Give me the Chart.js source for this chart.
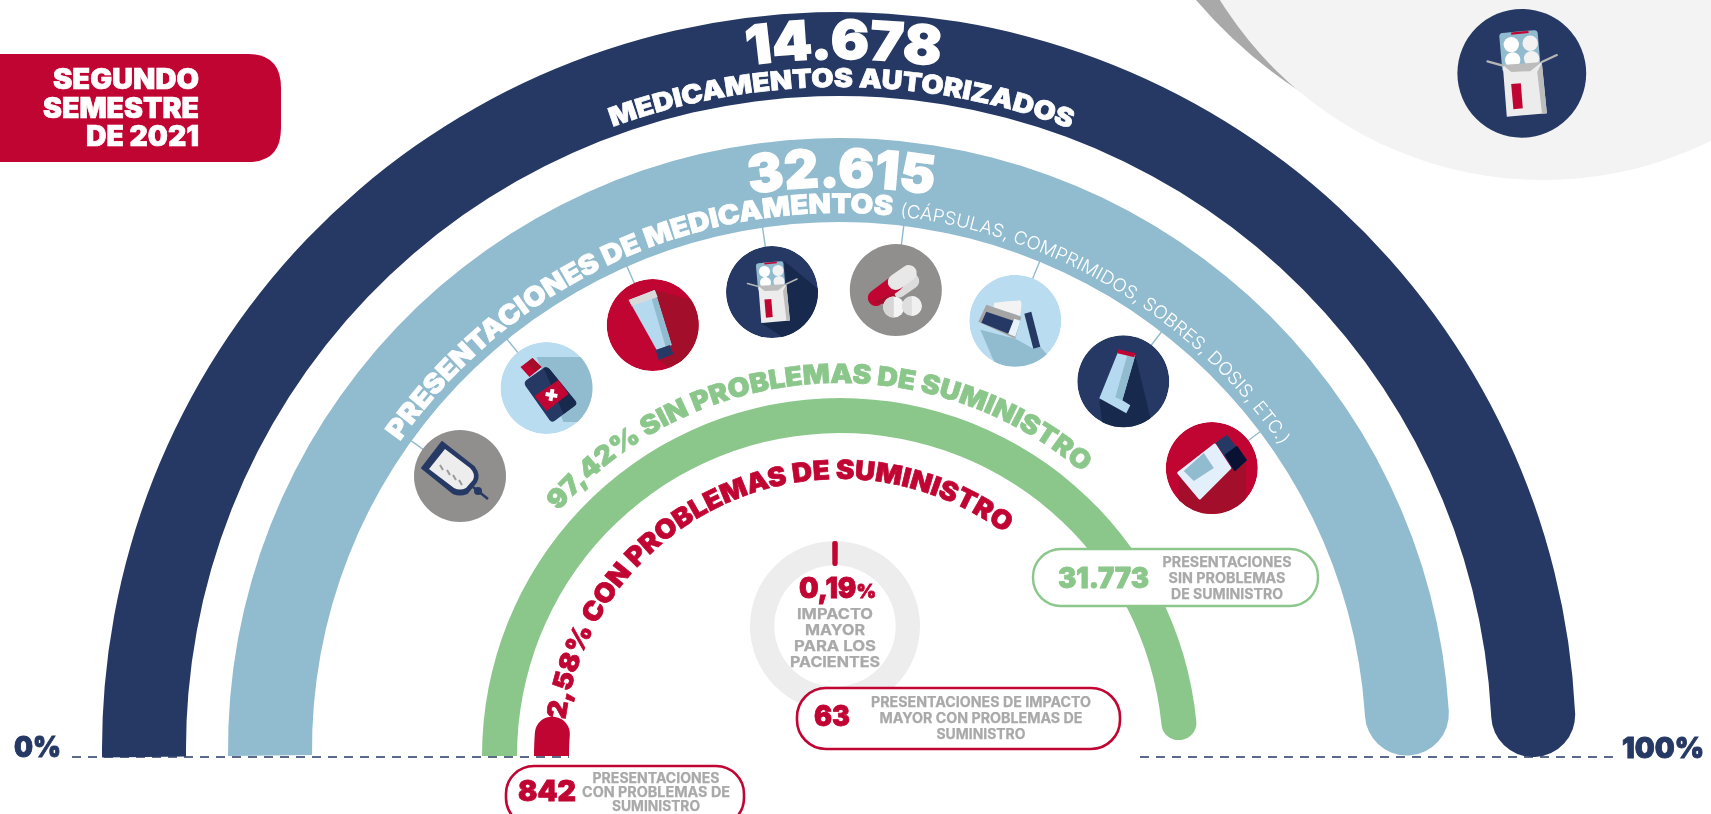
<!DOCTYPE html>
<html lang="es">
<head>
<meta charset="utf-8">
<title>Segundo semestre de 2021</title>
<script src="https://cdn.jsdelivr.net/npm/chart.js@4"></script>
<style>
  html, body { margin: 0; padding: 0; background: #fff; overflow: hidden; }
  #wrap { position: relative; width: 1711px; height: 814px; }
  #rings, #overlay { position: absolute; left: 0; top: 0; }
  #overlay text { font-family: Inter, "Noto Sans", sans-serif; font-weight: 900; }
  #overlay text.gris { fill: #a9a9a9; font-size: 14px; font-weight: 700; text-anchor: middle; stroke: #a9a9a9; stroke-width: 0.25px; }
  #overlay text.gris.grande { font-size: 15px; }
</style>
</head>
<body>
<div id="wrap">
<canvas id="rings" width="1711" height="814"></canvas>
<svg id="overlay" width="1711" height="814" viewBox="0 0 1711 814" xmlns="http://www.w3.org/2000/svg">
  <defs>
    <clipPath id="disco"><circle r="46"/></clipPath>
    <g id="blister">
      <rect x="-15" y="-30" width="27.5" height="28" rx="2.5" fill="#91bbcf" transform="rotate(-5 0 -15)"/>
      <path d="M-7.6 -28.4 L4.8 -29.5" stroke="#c10533" stroke-width="1.6"/>
      <circle cx="-7.5" cy="-20.5" r="5.5" fill="#fff"/><circle cx="6" cy="-21.5" r="5.5" fill="#f2f2f2"/>
      <circle cx="-6.5" cy="-9.5" r="5.5" fill="#fff"/><circle cx="7" cy="-10.5" r="5.5" fill="#f2f2f2"/>
      <path d="M-13.6 -6 L14.3 -7.5 L17.9 28.6 L-10.7 31 Z" fill="#ececec"/>
      <path d="M14.3 -7.5 L17.9 28.6 L14.5 29 L11 -1 Z" fill="#bcbcbc"/>
      <path d="M-13.6 -6 L14.3 -8 L6 -1.5 L-7.5 -1 Z" fill="#bcbcbc"/>
      <path d="M-24.5 -8.5 L-13.6 -5.5 M25 -13 L14.3 -8" stroke="#b5b5b5" stroke-width="1.6" stroke-linecap="round"/>
      <path d="M-7.6 7.6 L-0.7 7.1 L0.7 25 L-6 25.7 Z" fill="#c10533"/>
    </g>
  </defs>

  <!-- fondo arriba a la derecha -->
  <path d="M1196 0 Q1244 56 1304 94 L1420 0 Z" fill="#a9a9a9"/>
  <circle cx="1543" cy="-200" r="380" fill="#f3f3f3"/>

  <!-- etiqueta -->
  <path d="M0 54 H248 Q281 54 281 88 V128 Q281 162 248 162 H0 Z" fill="#c10533"/>
  <g fill="#fff" font-size="28" text-anchor="end" class="recia">
    <text x="199" y="89" textLength="146" lengthAdjust="spacingAndGlyphs">SEGUNDO</text>
    <text x="199" y="118" textLength="156" lengthAdjust="spacingAndGlyphs">SEMESTRE</text>
    <text x="199" y="146" textLength="113" lengthAdjust="spacingAndGlyphs">DE 2021</text>
  </g>

  <g id="conectores" stroke="#91bbcf" stroke-width="1.4"></g>

  <!-- iconos -->
  <g transform="translate(460 476)">
    <circle r="46" fill="#908f8e"/>
    <path d="M-18 -34 L-38 -8 L-7 17 Q0 20 7 17 L16 6 Q20 -1 14 -9 Z" fill="#263965" stroke="#263965" stroke-width="2" stroke-linejoin="round"/>
    <path d="M-15 -27 L-31 -7 L-6 12 Q0 15 6 12 L13 4 Q16 -2 10 -8 Z" fill="#ededed"/>
    <path d="M-20 -11 L-17 -6 M-13 -6 L-10 -1 M-7 -1 L-4 4 M-1 4 L2 9" stroke="#9a9a9a" stroke-width="2"/>
    <path d="M13 11 L28 23" stroke="#263965" stroke-width="2.5"/>
    <circle cx="18" cy="15" r="4" fill="#263965"/>
  </g>
  <g transform="translate(546.5 388)">
    <g clip-path="url(#disco)"><circle r="46" fill="#b9dcf0"/>
      <path d="M-10 -31 L60 -31 L60 34 L17 34 Z" fill="#91bbcf"/></g>
    <path d="M-20 -8 L-3 -20 Q0 -22 3 -19 L29 13 Q31 16 28 18 L8 33 Q5 35 3 32 L-21 -2 Q-23 -6 -20 -8 Z" fill="#263965"/>
    <path d="M-3 -20 Q0 -22 3 -19 L29 13 Q31 16 28 18 L17 26 Z" fill="#172a4d"/>
    <path d="M-26 -21 L-14 -30 L-5 -21 L-17 -11 Z" fill="#c10533"/>
    <path d="M-14 -30 L-5 -21 L-11 -16 L-20 -25 Z" fill="#a30f2b"/>
    <path d="M-12 8 L12 -8 L22 6 L0 23 Z" fill="#c10533"/>
    <path d="M5 1 V13 M-1 7 H11" stroke="#fff" stroke-width="4" transform="rotate(10 5 7)"/>
  </g>
  <g transform="translate(652.7 325)">
    <g clip-path="url(#disco)"><circle r="46" fill="#c10533"/>
      <path d="M2 -35 L50 -22 L50 30 L15 42 L6 35 L21 29 Z" fill="#a30f2b"/></g>
    <path d="M-24 -25 L2 -35 L19 20 L4 25 Z" fill="#b5d9ee"/>
    <path d="M-3 -33 L2 -35 L19 20 L13 22 Z" fill="#91bbcf"/>
    <path d="M-24 -25 L2 -35 L5 -28 L-21 -19 Z" fill="#d9d9d9"/>
    <path d="M3 25 L17 20 L21 29 L6 35 Z" fill="#263965"/>
  </g>
  <g transform="translate(772 292)">
    <g clip-path="url(#disco)"><circle r="46" fill="#263965"/>
      <path d="M12 -31 L50 0 L50 50 L12 46 L-10.7 31 L17.9 28.6 Z" fill="#172a4d"/></g>
    <use href="#blister"/>
  </g>
  <g transform="translate(895.8 290)">
    <circle r="46" fill="#908f8e"/>
    <path d="M3 0 L16 -9" stroke="#dcdcdc" stroke-width="15" stroke-linecap="round"/>
    <path d="M-20 8 L0 -7" stroke="#c10533" stroke-width="16" stroke-linecap="round"/>
    <path d="M-24 13 L-8 14 L1 7 L5 15 L-2 3 Z" fill="#a30f2b"/>
    <path d="M0 -8 L13 -17" stroke="#e8e8e8" stroke-width="16" stroke-linecap="round"/>
    <circle cx="-2" cy="17" r="10.6" fill="#f4f4f4"/><path d="M-2 6.4 A10.6 10.6 0 0 0 -2 27.6 Z" fill="#d6d6d6"/>
    <circle cx="16" cy="16" r="10" fill="#dedede"/><path d="M16 6 A10 10 0 0 1 16 26 Z" fill="#f0f0f0"/>
  </g>
  <g transform="translate(1015.3 320.7)">
    <g clip-path="url(#disco)"><circle r="46" fill="#b9dcf0"/>
      <path d="M-35 9 L-19 46 L46 46 L31 33 L25 26 L18 28 L0 18 Z" fill="#91bbcf"/></g>
    <path d="M-21 -18 Q-6 -20 2 -20 Q7 -22 6 -14 L5 -5 L-22 -13 Z" fill="#f3f3f3"/>
    <path d="M-37 1 L-29 -16 L6 -4 L0 18 Z" fill="#a5a5a5"/>
    <path d="M-34 2 L-29 -9 L-2 0 L-7 13 Z" fill="#263965"/>
    <path d="M-7 13 L-1 -2 L5 0 L0 16 Z" fill="#e9f3fa"/>
    <path d="M9 -7 L16 -9 L25 26 L18 28 Z" fill="#263965"/>
  </g>
  <g transform="translate(1123.3 381.3)">
    <g clip-path="url(#disco)"><circle r="46" fill="#263965"/>
      <path d="M12 -26 L28 40 L28 50 L-20 50 L-24 20 Z" fill="#172a4d"/></g>
    <path d="M-5 -30 L12 -26 L-1 19 L7 24 L3 32 L-24 17 Z" fill="#b5d9ee"/>
    <path d="M4 -26 L12 -26 L-1 19 L-8 16 Z" fill="#91bbcf"/>
    <path d="M-5 -32 L12 -28 L11 -24 L-6 -28 Z" fill="#c10533"/>
  </g>
  <g transform="translate(1211.8 468)">
    <g clip-path="url(#disco)"><circle r="46" fill="#c10533"/>
      <path d="M-33 7 L-12 30 L18 0 L34 -8 L34 50 L-33 50 Z" fill="#a30f2b"/></g>
    <path d="M-33 5 L3 -23 L18 0 L-12 30 Z" fill="#e3effa" stroke="#e3effa" stroke-width="3" stroke-linejoin="round"/>
    <path d="M-28 3 L-8 -15 L2 0 L-18 13 Z" fill="#91bbcf"/>
    <path d="M5 -25 L15 -32 L34 -8 L23 2 Z" fill="#263965" stroke="#263965" stroke-width="2" stroke-linejoin="round"/>
    <path d="M14 -13 L25 -21 L34 -8 L23 2 Z" fill="#0a1233" stroke="#0a1233" stroke-width="2" stroke-linejoin="round"/>
  </g>
  <g transform="translate(1521.8 73.3)">
    <circle r="64.4" fill="#263965"/>
    <use href="#blister" transform="scale(1.4)"/>
  </g>

  <!-- linea base -->
  <path d="M72 757 H569 M1140 757 H1614" stroke="#263965" stroke-width="1.3" stroke-dasharray="9 7"/>
  <text x="14" y="757" font-size="29" fill="#263965" stroke="#263965" stroke-width="0.9" textLength="47" lengthAdjust="spacingAndGlyphs">0%</text>
  <text x="1622" y="758" font-size="29" fill="#263965" stroke="#263965" stroke-width="0.9" textLength="82" lengthAdjust="spacingAndGlyphs">100%</text>

  <g id="curvos"></g>

  <!-- texto del anillo interior -->
  <text x="799" y="598" font-size="28" fill="#c10533" stroke="#c10533" stroke-width="0.8" textLength="77" lengthAdjust="spacingAndGlyphs">0,19<tspan font-size="19">%</tspan></text>
  <text class="gris grande" x="835" y="619" textLength="76" lengthAdjust="spacingAndGlyphs">IMPACTO</text>
  <text class="gris grande" x="835" y="635" textLength="60" lengthAdjust="spacingAndGlyphs">MAYOR</text>
  <text class="gris grande" x="835" y="651" textLength="82" lengthAdjust="spacingAndGlyphs">PARA LOS</text>
  <text class="gris grande" x="835" y="667" textLength="90" lengthAdjust="spacingAndGlyphs">PACIENTES</text>

  <!-- pastillas -->
  <rect x="1033" y="549" width="285" height="57" rx="28" fill="#fff" stroke="#8bc78b" stroke-width="2.4"/>
  <text x="1058" y="588" font-size="28" fill="#8bc78b" stroke="#8bc78b" stroke-width="0.8" textLength="91" lengthAdjust="spacingAndGlyphs">31.773</text>
  <text class="gris" x="1227" y="567" textLength="129" lengthAdjust="spacingAndGlyphs">PRESENTACIONES</text>
  <text class="gris" x="1227" y="583" textLength="117" lengthAdjust="spacingAndGlyphs">SIN PROBLEMAS</text>
  <text class="gris" x="1227" y="599" textLength="112" lengthAdjust="spacingAndGlyphs">DE SUMINISTRO</text>

  <rect x="797" y="688" width="323" height="61" rx="29" fill="#fff" stroke="#c10533" stroke-width="2.6"/>
  <text x="814" y="726" font-size="28" fill="#c10533" stroke="#c10533" stroke-width="0.8" textLength="36" lengthAdjust="spacingAndGlyphs">63</text>
  <text class="gris" x="981" y="707" textLength="220" lengthAdjust="spacingAndGlyphs">PRESENTACIONES DE IMPACTO</text>
  <text class="gris" x="981" y="723" textLength="203" lengthAdjust="spacingAndGlyphs">MAYOR CON PROBLEMAS DE</text>
  <text class="gris" x="981" y="739" textLength="89" lengthAdjust="spacingAndGlyphs">SUMINISTRO</text>

  <rect x="506" y="766" width="238" height="60" rx="28" fill="#fff" stroke="#c10533" stroke-width="2.6"/>
  <text x="518" y="801" font-size="28" fill="#c10533" stroke="#c10533" stroke-width="0.8" textLength="58" lengthAdjust="spacingAndGlyphs">842</text>
  <text class="gris" x="656" y="783" textLength="127" lengthAdjust="spacingAndGlyphs">PRESENTACIONES</text>
  <text class="gris" x="656" y="797" textLength="148" lengthAdjust="spacingAndGlyphs">CON PROBLEMAS DE</text>
  <text class="gris" x="656" y="811" textLength="88" lengthAdjust="spacingAndGlyphs">SUMINISTRO</text>
</svg>
</div>
<script>
const labels = ['Dato', 'Resto'];
const autorizados = [14678];
const presentaciones = [32615];
const sinProblemas = [31773, 842];
const conProblemas = [842, 31773];
const impactoMayor = [63, 32552];

const NAVY = '#263965', BLUE = '#91bbcf', GREEN = '#8bc78b', RED = '#c10533', TRACK = '#ededed';

// La primera serie se dibuja encima, por eso la marca roja va antes que su pista
const ringPlace = [
  { cx: 835, cy: 626, outer: 82.7, inner: 62.3 },
  { cx: 835, cy: 626, outer: 85, inner: 60.7 },
  { cx: 840, cy: 756, outer: 306, inner: 271 },
  { cx: 840, cy: 756, outer: 358, inner: 323 },
  { cx: 839, cy: 749, outer: 611, inner: 527 },
  { cx: 839, cy: 749, outer: 737, inner: 653 }
];

function cap(r) {
  return { outerStart: 0, innerStart: 0, outerEnd: r, innerEnd: r };
}

// Cada anillo tiene su propio centro y radios, el arco lo sigue calculando Chart.js
const placeRings = {
  id: 'placeRings',
  afterDatasetUpdate(chart, args) {
    const g = ringPlace[args.index];
    chart.getDatasetMeta(args.index).data.forEach(arc => {
      arc.x = g.cx;
      arc.y = g.cy;
      arc.outerRadius = g.outer;
      arc.innerRadius = g.inner;
    });
  }
};

new Chart(document.getElementById('rings'), {
  type: 'doughnut',
  plugins: [placeRings],
  data: {
    labels: labels,
    datasets: [
      { data: impactoMayor, backgroundColor: [RED, 'transparent'], borderColor: [RED, 'transparent'], borderWidth: [4.6, 0], borderJoinStyle: 'round', rotation: -0.35, circumference: 360 },
      { data: presentaciones, backgroundColor: [TRACK], borderWidth: 0, rotation: 0, circumference: 360 },
      { data: conProblemas, backgroundColor: [RED, 'transparent'], borderWidth: 0, rotation: -90, circumference: 302, borderRadius: cap(17) },
      { data: sinProblemas, backgroundColor: [GREEN, 'transparent'], borderWidth: 0, rotation: -90, circumference: 182, borderRadius: cap(17) },
      { data: presentaciones, backgroundColor: [BLUE], borderWidth: 0, rotation: -90.66, circumference: 181.32, borderRadius: cap(42) },
      { data: autorizados, backgroundColor: [NAVY], borderWidth: 0, rotation: -90.66, circumference: 181.32, borderRadius: cap(42) }
    ]
  },
  options: {
    responsive: false,
    animation: false,
    events: [],
    plugins: { legend: { display: false }, tooltip: { enabled: false } }
  }
});

// Textos sobre los arcos
const curved = [
  { t: '14.678', cx: 839, cy: 749, r: 690, from: -7.6, to: 8.4, size: 54, weight: 900, fill: '#fff', heavy: 1.4 },
  { t: 'MEDICAMENTOS AUTORIZADOS', cx: 839, cy: 749, r: 662, from: -20, to: 20.45, size: 26, weight: 900, fill: '#fff', heavy: 0.7 },
  { t: '32.615', cx: 839, cy: 749, r: 562, from: -9.1, to: 9.6, size: 53, weight: 900, fill: '#fff', heavy: 1.4 },
  { t: 'PRESENTACIONES DE MEDICAMENTOS', cx: 839, cy: 749, r: 536, from: -55, to: 5.7, size: 27, weight: 900, fill: '#fff', heavy: 0.7 },
  { t: '(CÁPSULAS, COMPRIMIDOS, SOBRES, DOSIS, ETC.)', cx: 839, cy: 749, r: 536, from: 6.5, to: 55.5, size: 18, weight: 300, fill: '#fff', heavy: 0 },
  { t: '97,42% SIN PROBLEMAS DE SUMINISTRO', cx: 840, cy: 756, r: 373, from: -49, to: 40.5, size: 26.5, weight: 900, fill: GREEN, heavy: 0.7 },
  { t: '2,58% CON PROBLEMAS DE SUMINISTRO', cx: 840, cy: 756, r: 277, from: -82.5, to: 36.5, size: 26.5, weight: 900, fill: RED, heavy: 0.7 }
];

const SVG_NS = 'http://www.w3.org/2000/svg';
const curvos = document.getElementById('curvos');

function pointAt(cx, cy, r, deg) {
  const a = deg * Math.PI / 180;
  return [cx + r * Math.sin(a), cy - r * Math.cos(a)];
}

curved.forEach((c, i) => {
  const p0 = pointAt(c.cx, c.cy, c.r, c.from);
  const p1 = pointAt(c.cx, c.cy, c.r, c.to + 4);
  const path = document.createElementNS(SVG_NS, 'path');
  path.setAttribute('id', 'curva' + i);
  path.setAttribute('fill', 'none');
  path.setAttribute('d', `M${p0[0]} ${p0[1]} A${c.r} ${c.r} 0 0 1 ${p1[0]} ${p1[1]}`);
  curvos.appendChild(path);

  const text = document.createElementNS(SVG_NS, 'text');
  text.setAttribute('fill', c.fill);
  if (c.heavy) {
    text.setAttribute('stroke', c.fill);
    text.setAttribute('stroke-width', c.heavy);
  }
  text.setAttribute('style', `font-size:${c.size}px;font-weight:${c.weight}`);
  const tp = document.createElementNS(SVG_NS, 'textPath');
  tp.setAttribute('href', '#curva' + i);
  tp.setAttribute('textLength', ((c.to - c.from) * Math.PI / 180 * c.r).toFixed(1));
  tp.setAttribute('lengthAdjust', 'spacingAndGlyphs');
  tp.textContent = c.t;
  text.appendChild(tp);
  curvos.appendChild(text);
});

// Un poco mas de cuerpo en la etiqueta roja
document.querySelectorAll('.recia text').forEach(t => {
  t.setAttribute('stroke', '#fff');
  t.setAttribute('stroke-width', '0.7');
});

// Conectores entre el anillo azul y los iconos
const iconCentres = [[460, 476], [546.5, 388], [652.7, 325], [772, 292], [895.8, 290], [1015.3, 320.7], [1123.3, 381.3], [1211.8, 468]];
const conectores = document.getElementById('conectores');
iconCentres.forEach(c => {
  const dx = c[0] - 839, dy = c[1] - 749;
  const d = Math.hypot(dx, dy);
  const line = document.createElementNS(SVG_NS, 'line');
  line.setAttribute('x1', c[0]);
  line.setAttribute('y1', c[1]);
  line.setAttribute('x2', 839 + dx / d * 528);
  line.setAttribute('y2', 749 + dy / d * 528);
  conectores.appendChild(line);
});
</script>
</body>
</html>
